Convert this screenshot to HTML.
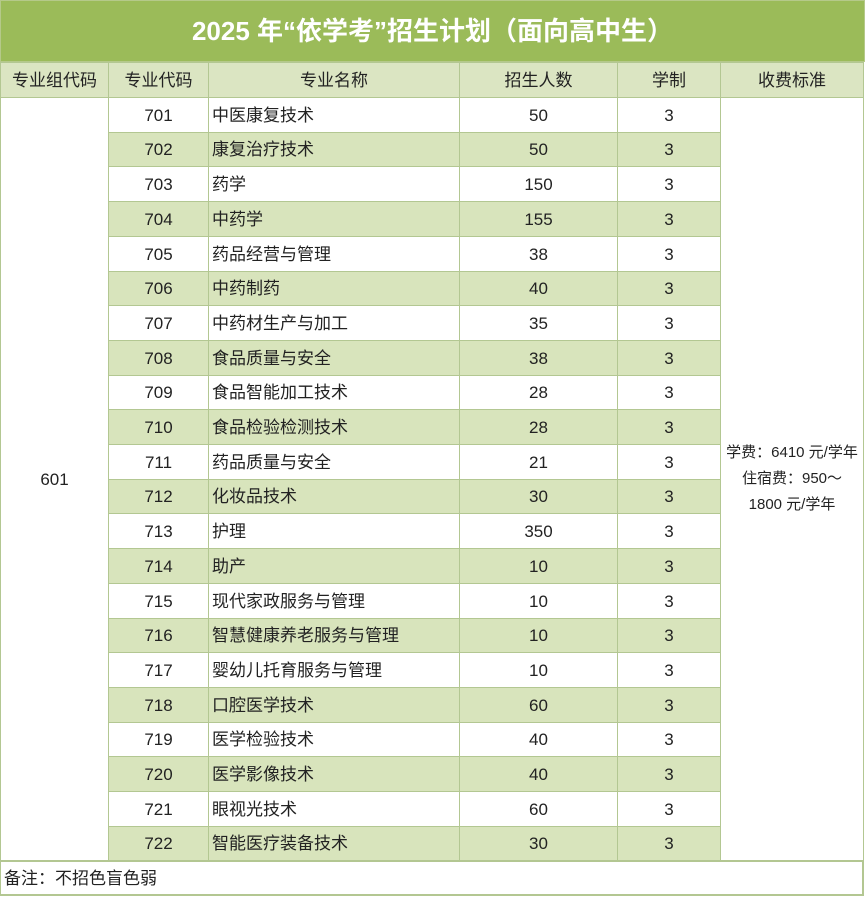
<!DOCTYPE html><html><head><meta charset="utf-8"><style>
body{margin:0;width:866px;height:897px;background:#fff;font-family:"Liberation Sans","Noto Sans CJK SC",sans-serif;color:#222;position:relative;overflow:hidden}
.t{position:absolute;left:0;top:0;width:863px;height:60px;background:#9bbb59;border:1px solid #b5c98a;color:#fff;font-size:26px;font-weight:bold;text-align:center;line-height:60px}
.c{position:absolute;box-sizing:border-box;border:1px solid #b3c792;font-size:17px;line-height:1;display:flex;align-items:center}
.n{justify-content:center}
.g{background:#d8e4bc}
.h{background:#dbe5c2}
</style></head><body>
<div class="t">2025 年“依学考”招生计划（面向高中生）</div>
<div id="tb"></div>
<script>
var X=[0,108,208,459,617,720,863];
var H=["专业组代码","专业代码","专业名称","招生人数","学制","收费标准"];
var tb=document.getElementById('tb'),s='';
function cell(x,y,w,h,cls,txt,st){s+='<div class="c '+cls+'" style="left:'+x+'px;top:'+y+'px;width:'+(w+1)+'px;height:'+(h+1)+'px;'+(st||'')+'">'+txt+'</div>';}
for(var i=0;i<6;i++)cell(X[i],62,X[i+1]-X[i],35,'n h',H[i]);
var R=[["701","中医康复技术",50],["702","康复治疗技术",50],["703","药学",150],["704","中药学",155],["705","药品经营与管理",38],["706","中药制药",40],["707","中药材生产与加工",35],["708","食品质量与安全",38],["709","食品智能加工技术",28],["710","食品检验检测技术",28],["711","药品质量与安全",21],["712","化妆品技术",30],["713","护理",350],["714","助产",10],["715","现代家政服务与管理",10],["716","智慧健康养老服务与管理",10],["717","婴幼儿托育服务与管理",10],["718","口腔医学技术",60],["719","医学检验技术",40],["720","医学影像技术",40],["721","眼视光技术",60],["722","智能医疗装备技术",30]];
var y0=97,rh=34.7;
cell(0,y0,108,Math.round(rh*22),'n','601');
cell(720,y0,143,Math.round(rh*22),'n','<div style="text-align:center;line-height:26px;font-size:15px">学费：6410 元/学年<br>住宿费：950～<br>1800 元/学年</div>');
for(var r=0;r<22;r++){var y=Math.round(y0+r*rh),h=Math.round(y0+(r+1)*rh)-y,g=r%2?'g':'';
cell(108,y,100,h,'n '+g,R[r][0]);cell(208,y,251,h,g,R[r][1],'padding-left:3px');cell(459,y,158,h,'n '+g,R[r][2]);cell(617,y,103,h,'n '+g,'3');}
cell(0,861,863,34,'','备注：不招色盲色弱','padding-left:3px;border-width:1px 2px 2px 1px');
tb.innerHTML=s;
</script></body></html>
